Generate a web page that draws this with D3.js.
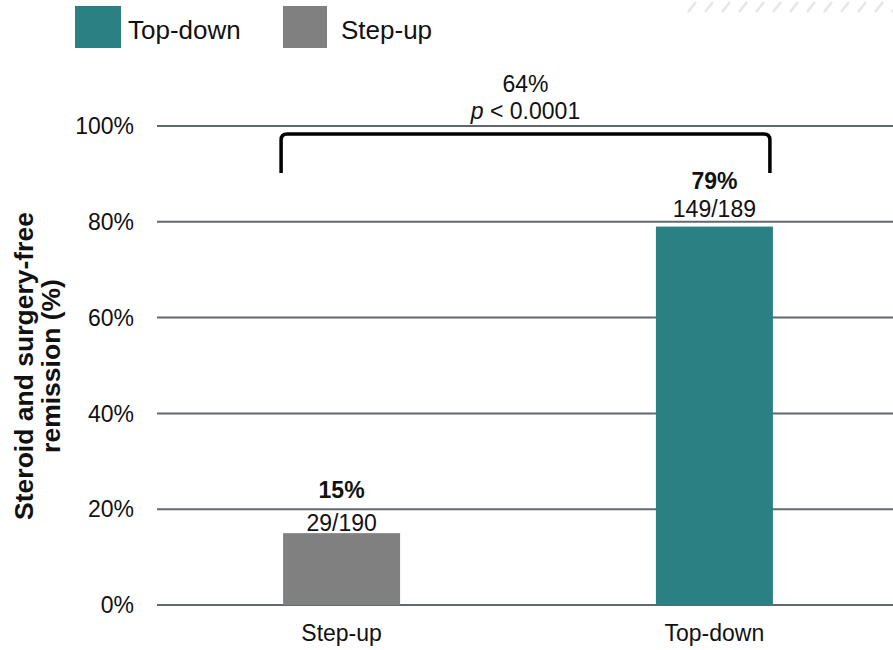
<!DOCTYPE html>
<html>
<head>
<meta charset="utf-8">
<script src="https://cdn.jsdelivr.net/npm/d3@7"></script>
<style>
  html, body { margin: 0; padding: 0; background: #fff; }
  svg { display: block; font-family: "Liberation Sans", Arial, sans-serif; }
</style>
</head>
<body>
<svg id="chart" width="893" height="650"></svg>
<script>
// Remission by treatment strategy
const categories = ["Step-up", "Top-down"];
const values = [15, 79];
const counts = ["29/190", "149/189"];
const valueLabels = ["15%", "79%"];
const colors = ["#808080", "#2a8083"];
const legendItems = ["Top-down", "Step-up"];
const legendColors = ["#2a8083", "#808080"];
const yTicks = [0, 20, 40, 60, 80, 100];
const diffLabel = "64%";

const svg = d3.select("#chart");
const W = 893, H = 650;
const FS = 23;

// faint hatch strip in the top-right corner
const hatch = svg.append("g");
for (let x0 = 688; x0 < W + 10; x0 += 17) {
  hatch.append("line")
    .attr("x1", x0).attr("y1", 12).attr("x2", x0 + 8).attr("y2", 2)
    .attr("stroke", "#e6e6e6").attr("stroke-width", 2.5);
}

const x = d3.scaleBand().domain(categories).range([155, 901]).paddingInner(0.683).paddingOuter(0.342);
const y = d3.scaleLinear().domain([0, 100]).range([605, 126]);

// gridlines
svg.append("g").selectAll("line").data(yTicks).join("line")
  .attr("x1", 157).attr("x2", W)
  .attr("y1", d => y(d)).attr("y2", d => y(d))
  .attr("stroke", "#5f6a6f").attr("stroke-width", 2);

// y tick labels
svg.append("g").selectAll("text").data(yTicks).join("text")
  .attr("x", 134).attr("y", d => y(d)).attr("dy", "0.36em")
  .attr("text-anchor", "end").attr("font-size", FS).attr("fill", "#111")
  .text(d => d + "%");

// bars
const bw = 117;
const cx = d => x(d) + x.bandwidth() / 2;
svg.append("g").selectAll("rect").data(categories).join("rect")
  .attr("x", d => cx(d) - bw / 2)
  .attr("width", bw)
  .attr("y", (d, i) => y(values[i]))
  .attr("height", (d, i) => y(0) - y(values[i]))
  .attr("fill", (d, i) => colors[i]);

// value labels above each bar
const pctOffset = [35, 38], cntOffset = [2, 10];
categories.forEach((c, i) => {
  svg.append("text").attr("x", cx(c)).attr("y", y(values[i]) - pctOffset[i])
    .attr("text-anchor", "middle").attr("font-size", FS).attr("font-weight", "bold").attr("fill", "#111")
    .text(valueLabels[i]);
  svg.append("text").attr("x", cx(c)).attr("y", y(values[i]) - cntOffset[i])
    .attr("text-anchor", "middle").attr("font-size", FS).attr("fill", "#111")
    .text(counts[i]);
  svg.append("text").attr("x", cx(c)).attr("y", 641)
    .attr("text-anchor", "middle").attr("font-size", FS).attr("fill", "#111")
    .text(c);
});

// comparison bracket
const bx1 = cx(categories[0]) - bw / 2 - 2;
const bx2 = cx(categories[1]) + bw / 2 - 3;
const bTop = 134, bBot = 173, r = 6;
svg.append("path")
  .attr("d", `M${bx1},${bBot} L${bx1},${bTop + r} Q${bx1},${bTop} ${bx1 + r},${bTop} L${bx2 - r},${bTop} Q${bx2},${bTop} ${bx2},${bTop + r} L${bx2},${bBot}`)
  .attr("fill", "none").attr("stroke", "#000").attr("stroke-width", 3.5);

const midX = (bx1 + bx2) / 2;
svg.append("text").attr("x", midX).attr("y", 92)
  .attr("text-anchor", "middle").attr("font-size", FS).attr("fill", "#111")
  .text(diffLabel);
const pt = svg.append("text").attr("x", midX).attr("y", 119)
  .attr("text-anchor", "middle").attr("font-size", FS).attr("fill", "#111");
pt.append("tspan").attr("font-style", "italic").text("p");
pt.append("tspan").text(" < 0.0001");

// y axis title
const yt = svg.append("text")
  .attr("transform", "translate(0,366) rotate(-90)")
  .attr("text-anchor", "middle").attr("font-size", 26.5).attr("font-weight", "bold").attr("fill", "#111");
yt.append("tspan").attr("x", 0).attr("y", 33).text("Steroid and surgery-free");
yt.append("tspan").attr("x", 0).attr("y", 60).text("remission (%)");

// legend
const lg = svg.append("g");
const lx = [75, 283], lw = [46, 44], ltx = [128, 341];
legendItems.forEach((t, i) => {
  lg.append("rect").attr("x", lx[i]).attr("y", 6).attr("width", lw[i]).attr("height", 42)
    .attr("fill", legendColors[i]);
  lg.append("text").attr("x", ltx[i]).attr("y", 39).attr("font-size", 26).attr("fill", "#111").text(t);
});
</script>
</body>
</html>
